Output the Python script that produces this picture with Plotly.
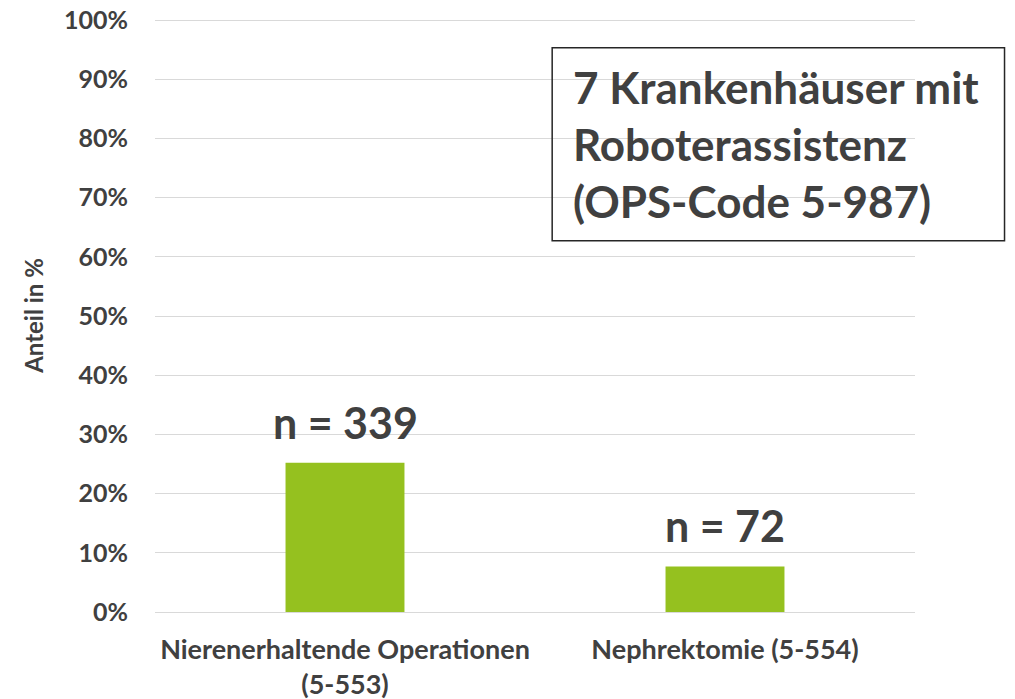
import plotly.graph_objects as go

categories = ["Nierenerhaltende Operationen<br>(5-553)", "Nephrektomie (5-554)"]
shares = [0.252, 0.077]
labels = ["n = 339", "n = 72"]
tick_vals = [i / 10 for i in range(11)]
tick_text = [f"{i*10}%" for i in range(11)]
box_text = "7 Krankenhäuser mit<br>Roboterassistenz<br>(OPS-Code 5-987)"

TXT = "#404040"
fig = go.Figure()
fig.add_trace(go.Bar(x=categories, y=shares, marker=dict(color="#95C11F", line=dict(width=0)),
                     width=0.313, hoverinfo="skip"))
for c, v, t in zip(categories, shares, labels):
    fig.add_annotation(x=c, y=v, text=t, showarrow=False, yanchor="bottom", yshift=13,
                       font=dict(family="Lato", size=43, color=TXT, weight="bold"))

fig.add_shape(type="rect", xref="paper", yref="paper", x0=0.5226, x1=1.1178, y0=0.626, y1=0.9515,
              line=dict(color="#262626", width=1.5), fillcolor="rgba(0,0,0,0)", layer="above")
fig.add_annotation(xref="paper", yref="paper", x=0.548, y=0.79, xanchor="left", yanchor="middle",
                   text=box_text, showarrow=False, align="left",
                   font=dict(family="Lato", size=44, color=TXT, weight="bold"))

fig.update_layout(
    width=1015, height=699, margin=dict(l=155, r=100, t=19, b=87),
    paper_bgcolor="white", plot_bgcolor="white", showlegend=False, bargap=0.687,
    xaxis=dict(showgrid=False, showline=False, ticks="", automargin=False, ticklabelstandoff=19,
               tickfont=dict(family="Lato", size=27, color=TXT, weight="bold")),
    yaxis=dict(range=[0, 1.002], tickvals=tick_vals, ticktext=tick_text, showgrid=True, gridcolor="#d9d9d9",
               gridwidth=1, zeroline=True, zerolinecolor="#d9d9d9", zerolinewidth=1, automargin=False,
               tickfont=dict(family="Lato", size=25, color=TXT, weight="bold"), ticklabelstandoff=26,
               title=dict(text="Anteil in %", font=dict(family="Lato", size=24, color=TXT, weight="bold"), standoff=13)),
)
fig.write_html("out.html", config={"displayModeBar": False},
               post_script="document.body.style.margin='0';")
